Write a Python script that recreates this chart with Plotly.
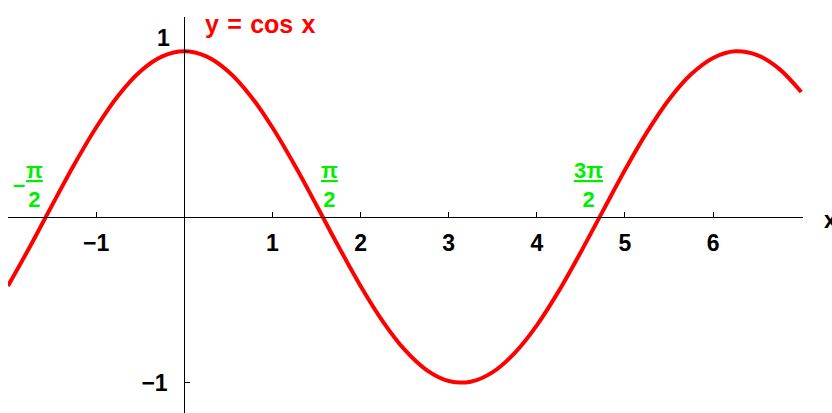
import plotly.graph_objects as go

# Sampled points of the curve y = cos x
x_vals = [-2.0, -1.75, -1.5, -1.25, -1.0, -0.75, -0.5, -0.25, 0.0, 0.25, 0.5, 0.75,
          1.0, 1.25, 1.5, 1.75, 2.0, 2.25, 2.5, 2.75, 3.0, 3.25, 3.5, 3.75,
          4.0, 4.25, 4.5, 4.75, 5.0, 5.25, 5.5, 5.75, 6.0, 6.25, 6.5, 6.75, 7.0]
y_vals = [-0.416, -0.178, 0.071, 0.315, 0.540, 0.732, 0.878, 0.969, 1.000, 0.969, 0.878, 0.732,
          0.540, 0.315, 0.071, -0.178, -0.416, -0.628, -0.801, -0.924, -0.990, -0.994, -0.936, -0.820,
          -0.654, -0.446, -0.211, 0.037, 0.284, 0.512, 0.709, 0.861, 0.960, 1.000, 0.977, 0.894, 0.754]

# Axis ticks
x_ticks = [-1, 1, 2, 3, 4, 5, 6]
x_tick_text = ["\u22121", "1", "2", "3", "4", "5", "6"]
y_ticks = [-1, 1]
y_tick_text = ["\u22121", ""]

# Zero crossings and their labels
zero_x = [-1.5708, 1.5708, 4.7124]
zero_num = ["\u03c0", "\u03c0", "3\u03c0"]
zero_shift = [-11, 7, -11]

X_RANGE = [-2.0, 7.02]
Y_RANGE = [-1.183, 1.207]

FONT = "Liberation Sans, Arial, sans-serif"
GREEN = "#00ee00"
RED = "#ff0000"

fig = go.Figure()
fig.add_trace(go.Scatter(
    x=x_vals, y=y_vals, mode="lines",
    line=dict(color=RED, width=4, shape="spline", smoothing=1.0),
    hoverinfo="skip", showlegend=False,
))

x_pos = (0 - Y_RANGE[0]) / (Y_RANGE[1] - Y_RANGE[0])
y_pos = (0 - X_RANGE[0]) / (X_RANGE[1] - X_RANGE[0])

fig.update_layout(
    width=832, height=413,
    margin=dict(l=8, r=29, t=17, b=0, pad=0),
    paper_bgcolor="white", plot_bgcolor="white",
    font=dict(family=FONT, color="black"),
    xaxis=dict(
        range=X_RANGE, showgrid=False, zeroline=False,
        showline=True, linecolor="black", linewidth=1,
        anchor="free", position=x_pos,
        ticks="inside", ticklen=5, tickwidth=1, tickcolor="black",
        tickvals=x_ticks, ticktext=x_tick_text,
        tickfont=dict(family=FONT, size=23, color="black", weight="bold"),
        ticklabelstandoff=5,
    ),
    yaxis=dict(
        range=Y_RANGE, showgrid=False, zeroline=False,
        showline=True, linecolor="black", linewidth=1,
        anchor="free", position=y_pos,
        ticks="inside", ticklen=5, tickwidth=1, tickcolor="black",
        tickvals=y_ticks, ticktext=y_tick_text,
        tickfont=dict(family=FONT, size=23, color="black", weight="bold"),
        ticklabelstandoff=12,
    ),
)

# "1" label on the y axis, lifted above its tick
fig.add_annotation(
    x=0, y=1, text="1", showarrow=False, xanchor="right", yanchor="middle",
    xshift=-12, yshift=13,
    font=dict(family=FONT, size=23, color="black", weight="bold"),
)

# Title of the curve
fig.add_annotation(
    x=0.21, y=1.165, text="y\u2004=\u2004cos\u2004x", showarrow=False,
    xanchor="left", yanchor="middle",
    font=dict(family=FONT, size=25, color=RED, weight="bold"),
)

# Axis name at the right end
fig.add_annotation(
    xref="paper", x=1, y=0, text="x", showarrow=False, xanchor="left", yanchor="middle",
    xshift=19, yshift=-3,
    font=dict(family=FONT, size=23, color="black", weight="bold"),
)

# Fraction labels for the zero crossings
for zx, num, sh in zip(zero_x, zero_num, zero_shift):
    fig.add_annotation(
        x=zx, y=0, text=f"<u>{num}</u><br>2", showarrow=False,
        xanchor="center", yanchor="bottom", xshift=sh, yshift=3,
        font=dict(family=FONT, size=22, color=GREEN, weight="bold"),
    )
fig.add_annotation(
    x=zero_x[0], y=0, text="\u2013", showarrow=False,
    xanchor="center", yanchor="middle", xshift=-27, yshift=32,
    font=dict(family=FONT, size=22, color=GREEN, weight="bold"),
)

fig.write_html("out.html")
